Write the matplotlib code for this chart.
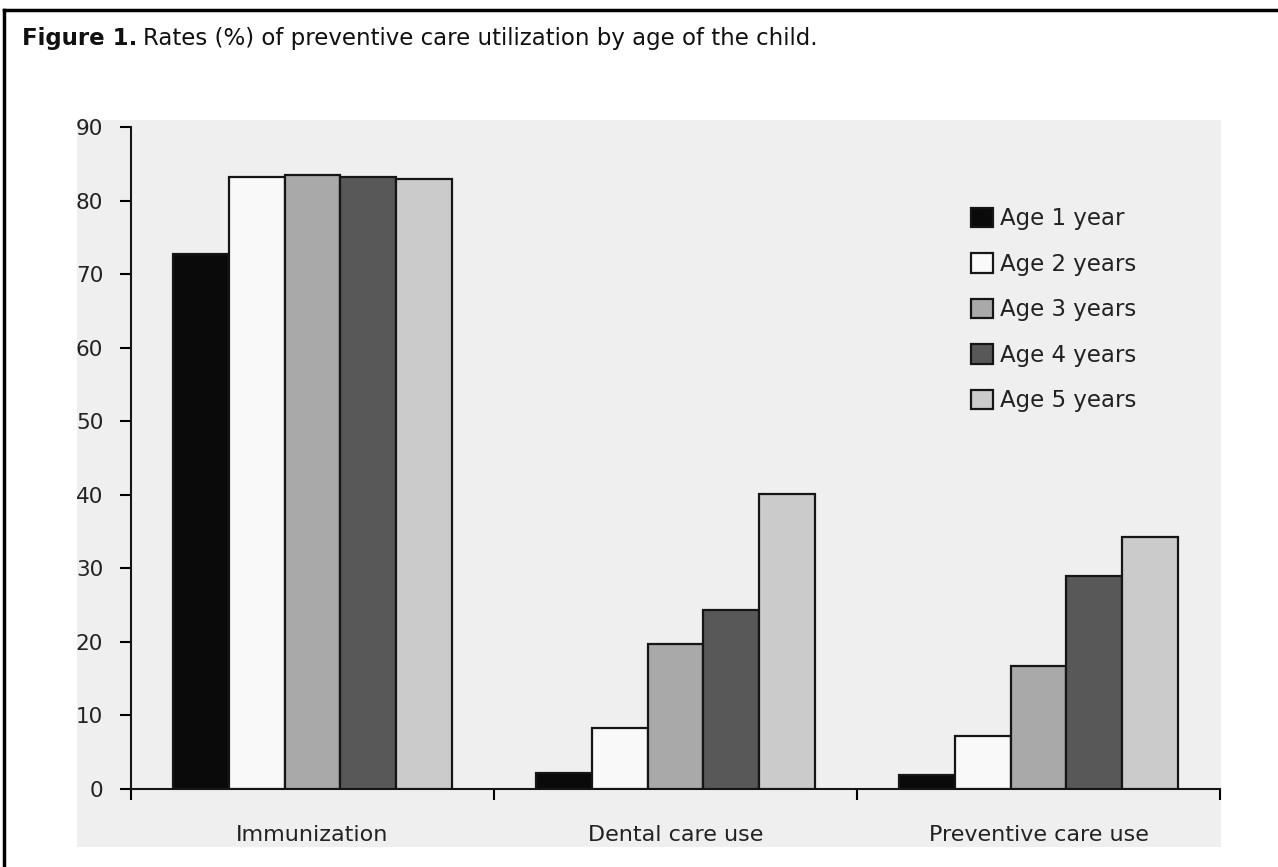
import numpy as np
import matplotlib
matplotlib.use("Agg")
import matplotlib.pyplot as plt
from matplotlib.patches import Rectangle, Patch

categories = ["Immunization", "Dental care use", "Preventive care use"]
series = ["Age 1 year", "Age 2 years", "Age 3 years", "Age 4 years", "Age 5 years"]
age1 = [72.7, 2.2, 1.9]
age2 = [83.2, 8.3, 7.2]
age3 = [83.5, 19.7, 16.7]
age4 = [83.2, 24.3, 29.0]
age5 = [82.9, 40.1, 34.3]
values = [age1, age2, age3, age4, age5]
colors = ["#0a0a0a", "#f9f9f9", "#a9a9a9", "#585858", "#cbcbcb"]

plt.rcParams['font.family'] = ['DejaVu Sans']

W, H = 1278, 867
fig = plt.figure(figsize=(W / 100, H / 100), dpi=100)
fig.patch.set_facecolor("white")

bg = "#efefef"
# light gray panel behind the chart
fig.patches.append(Rectangle((77 / W, 1 - 847 / H), (1221 - 77) / W, (847 - 120) / H,
                             transform=fig.transFigure, facecolor=bg, edgecolor="none", zorder=-5))
# page border (left and top)
fig.lines.append(plt.Line2D([4 / W, 4 / W], [0, 1 - 10 / H], transform=fig.transFigure,
                            color="black", lw=2.5))
fig.lines.append(plt.Line2D([4 / W, 1], [1 - 10 / H, 1 - 10 / H], transform=fig.transFigure,
                            color="black", lw=2.5))

ax = fig.add_axes([131 / W, 1 - 789 / H, (1220 - 131) / W, (789 - 127) / H])
ax.set_zorder(2)
ax.set_facecolor(bg)

x = np.arange(len(categories))
bw = 0.154
for i, (vals, c, lab) in enumerate(zip(values, colors, series)):
    ax.bar(x + (i - 2) * bw, vals, bw, color=c, edgecolor="#151515", linewidth=1.6,
           label=lab, zorder=3)

ax.set_xlim(-0.5, 2.5)
ax.set_ylim(0, 90)
ax.set_yticks(np.arange(0, 91, 10))
ax.set_xticks([-0.5, 0.5, 1.5, 2.5])
ax.set_xticklabels([])
ax.set_xticks(x, minor=True)
ax.set_xticklabels(categories, minor=True)
ax.tick_params(axis="x", which="minor", length=0, pad=26, labelsize=16, colors="#222222")
ax.tick_params(axis="x", which="major", length=8, width=1.5, direction="out")
ax.tick_params(axis="y", length=8, width=1.5, pad=12, labelsize=15.5, labelcolor="#222222")
for s in ["top", "right"]:
    ax.spines[s].set_visible(False)
for s in ["left", "bottom"]:
    ax.spines[s].set_linewidth(1.5)
    ax.spines[s].set_color("#151515")

handles = [Patch(facecolor=c, edgecolor="#151515", linewidth=1.6) for c in colors]
leg = ax.legend(handles, series, loc="upper left", bbox_to_anchor=(960 / W, 1 - 196 / H),
                bbox_transform=fig.transFigure, frameon=False, fontsize=16.5,
                handlelength=0.95, handleheight=0.95, handletextpad=0.3, labelspacing=0.98,
                borderpad=0)
for t in leg.get_texts():
    t.set_color("#222222")

t1 = fig.text(22 / W, 1 - 38 / H, "Figure 1.", fontsize=16.5, fontweight="bold",
              va="center", ha="left", color="#111111")
fig.canvas.draw()
bb = t1.get_window_extent()
fig.text((bb.x1 + 6) / W, 1 - 38 / H, "Rates (%) of preventive care utilization by age of the child.",
         fontsize=16.5, va="center", ha="left", color="#111111")

fig.savefig("out.png", dpi=100, facecolor="white")
